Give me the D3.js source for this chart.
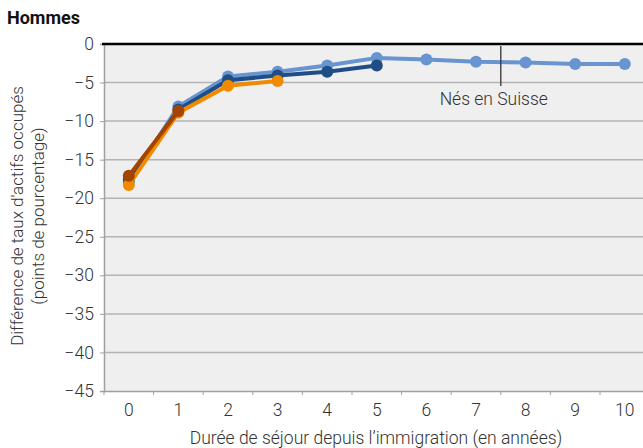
<!DOCTYPE html>
<html><head><meta charset="utf-8">
<script src="https://cdn.jsdelivr.net/npm/d3@7"></script>
<style>
body{margin:0;background:#fff;}
svg{display:block;font-family:Roboto,"Noto Sans",sans-serif;}
</style></head>
<body><svg id="c" width="643" height="448"></svg>
<script>
const years = [0,1,2,3,4,5,6,7,8,9,10];
const yTicks = [0,-5,-10,-15,-20,-25,-30,-35,-40,-45];
const seriesNames = ["Série bleu clair","Série bleu foncé","Série orange","Série brun"];
const lightBlue = [-18.0,-8.1,-4.2,-3.6,-2.8,-1.8,-2.0,-2.3,-2.4,-2.6,-2.6];
const darkBlue  = [-17.6,-8.5,-4.7,-4.1,-3.6,-2.8];
const orange    = [-18.3,-8.9,-5.4,-4.8];
const brown     = [-17.1,-8.7];
const colors = ["#6895d2","#1f4e86","#f28a00","#a34400"];
const annotation = {text:"Nés en Suisse", between:[7,8]};

const FS = 17;
const svg = d3.select("#c");
const L=104, T=44, B=391, step=49.6;
const x = d3.scaleBand().domain(years).range([L, L+step*years.length]).paddingInner(0).paddingOuter(0);
const y = d3.scaleLinear().domain([-45,0]).range([B,T]);

svg.append("rect").attr("x",L).attr("y",T).attr("width",643-L).attr("height",B-T).attr("fill","#efefef");

// gridlines
svg.append("g").selectAll("line").data(yTicks.filter(d=>d!==0 && d!==-45)).join("line")
  .attr("x1",L).attr("x2",643).attr("y1",d=>y(d)).attr("y2",d=>y(d))
  .attr("stroke","#b4b4b4").attr("stroke-width",1.5);

// y axis
const ya = svg.append("g").attr("transform",`translate(${L},0)`)
  .call(d3.axisLeft(y).tickValues(yTicks).tickSize(4).tickPadding(6).tickFormat(d=>d===0?"0":"\u2212"+Math.abs(d)));
ya.select(".domain").attr("stroke","#a0a0a0").attr("stroke-width",1.5);
ya.selectAll(".tick line").attr("stroke","#a0a0a0");
ya.selectAll("text").attr("font-size",17.5).attr("fill","#333").attr("font-weight",300).attr("font-family","Roboto");

// x axis
const xa = svg.append("g").attr("transform",`translate(0,${B})`)
  .call(d3.axisBottom(x).tickSize(0).tickPadding(13));
xa.select(".domain").attr("stroke","#a0a0a0").attr("stroke-width",1.5);
xa.selectAll("text").attr("font-size",17.5).attr("fill","#333").attr("font-weight",300).attr("font-family","Roboto");
// boundary ticks
xa.append("g").selectAll("line").data(years.concat([years.length])).join("line")
  .attr("x1",(d,i)=>L+i*x.step()).attr("x2",(d,i)=>L+i*x.step())
  .attr("y1",0).attr("y2",4).attr("stroke","#a0a0a0");

// top zero line
svg.append("line").attr("x1",L-2).attr("x2",643).attr("y1",y(0)).attr("y2",y(0)).attr("stroke","#000").attr("stroke-width",2.5);

// series
const data = [lightBlue,darkBlue,orange,brown];
const line = d3.line().x((d,i)=>x(years[i])+x.bandwidth()/2).y(d=>y(d));
data.forEach((s,k)=>{
  const g = svg.append("g").attr("class","series").attr("data-name",seriesNames[k]);
  g.append("path").attr("d",line(s)).attr("fill","none").attr("stroke",colors[k]).attr("stroke-width",4).attr("stroke-linejoin","round");
  g.selectAll("circle").data(s).join("circle")
    .attr("cx",(d,i)=>x(years[i])+x.bandwidth()/2).attr("cy",d=>y(d)).attr("r",6).attr("fill",colors[k]);
});

// annotation
const ax = x(annotation.between[1]);
svg.append("line").attr("x1",ax).attr("x2",ax).attr("y1",T+2).attr("y2",86).attr("stroke","#333").attr("stroke-width",1.3);
svg.append("text").attr("x",ax-7).attr("y",105).attr("text-anchor","middle").attr("font-size",17.5).attr("fill","#333").attr("font-weight",300).text(annotation.text);

// title
svg.append("text").attr("x",7).attr("y",24).attr("font-size",18).attr("font-weight",700).attr("fill","#111").text("Hommes");

// axis titles
svg.append("text").attr("x",376).attr("y",444).attr("text-anchor","middle").attr("font-size",17.5).attr("fill","#333").attr("font-weight",300).text("Durée de séjour depuis l’immigration (en années)");
const yt = svg.append("text").attr("transform",`translate(0,216) rotate(-90)`).attr("text-anchor","middle").attr("font-size",FS).attr("fill","#333").attr("font-weight",300);
yt.append("tspan").attr("x",0).attr("y",23).text("Différence de taux d'actifs occupés");
yt.append("tspan").attr("x",0).attr("y",44).text("(points de pourcentage)");
</script></body></html>
